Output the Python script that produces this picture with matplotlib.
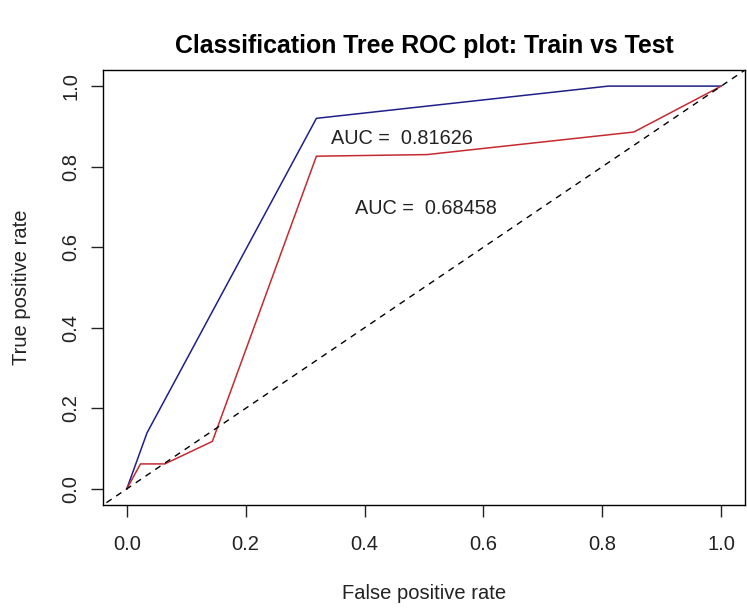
import matplotlib
matplotlib.use("Agg")
import matplotlib.pyplot as plt

# ROC points for the classification tree (false positive rate, true positive rate)
train_fpr = [0.0, 0.034, 0.319, 0.81, 1.0]
train_tpr = [0.0, 0.139, 0.920, 1.0, 1.0]

test_fpr = [0.0, 0.023, 0.064, 0.144, 0.319, 0.505, 0.853, 1.0]
test_tpr = [0.0, 0.062, 0.062, 0.118, 0.826, 0.830, 0.886, 1.0]

train_auc = 0.81626
test_auc = 0.68458

ticks = [0.0, 0.2, 0.4, 0.6, 0.8, 1.0]

plt.rcParams['font.family'] = ['Liberation Sans', 'DejaVu Sans']

fig = plt.figure(figsize=(7.47, 6.10), dpi=100)
ax = fig.add_axes([103 / 747, 1 - 505 / 610, 642 / 747, 435 / 610])

ax.plot(train_fpr, train_tpr, color='#1f1f8a', lw=1.1)
ax.plot(test_fpr, test_tpr, color='#c42a30', lw=1.1)
ax.plot([-0.1, 1.1], [-0.1, 1.1], color='black', lw=1.0, ls=(0, (4.5, 4)))

ax.text(0.463, 0.871, f"AUC =  {train_auc:.5f}", ha='center', va='center',
        fontsize=14.3, color='#222222')
ax.text(0.503, 0.697, f"AUC =  {test_auc:.5f}", ha='center', va='center',
        fontsize=14.3, color='#222222')

ax.set_xlim(-0.04, 1.04)
ax.set_ylim(-0.04, 1.04)
ax.set_xticks(ticks)
ax.set_yticks(ticks)
ax.set_xticklabels([f"{t:.1f}" for t in ticks])
ax.set_yticklabels([f"{t:.1f}" for t in ticks], rotation=90, va='center')
ax.tick_params(length=8.5, width=1, labelsize=14.5, colors='#222222')
ax.tick_params(axis='x', pad=13)
ax.tick_params(axis='y', pad=8)
for sp in ax.spines.values():
    sp.set_linewidth(1)

ax.set_xlabel('False positive rate', fontsize=14.5, labelpad=22, color='#222222')
ax.set_ylabel('True positive rate', fontsize=14.5, labelpad=22, color='#222222')
fig.text((103 + 745) / 2 / 747, 1 - 46 / 610, 'Classification Tree ROC plot: Train vs Test',
         ha='center', va='center', fontsize=17.9, fontweight='bold')

fig.savefig('out.png', dpi=100)
